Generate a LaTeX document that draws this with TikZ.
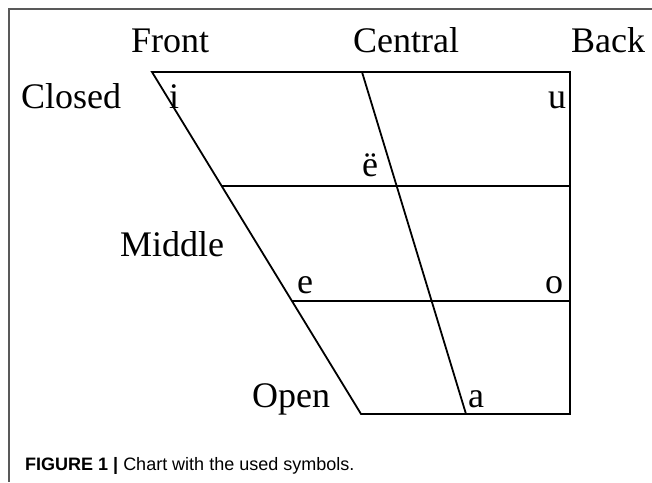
\documentclass[tikz,border=0pt]{standalone}
\usepackage{fontspec}
\setmainfont{Liberation Serif}
\newfontfamily\capfont{Liberation Sans}
\begin{document}
\begin{tikzpicture}[x=1pt,y=-1pt,
  lbl/.style={anchor=base west,inner sep=0pt,font=\fontsize{36}{36}\selectfont},
  edge/.style={line width=1.8pt,black},
  frame/.style={line width=1.6pt,black!65}]
\useasboundingbox (0,0) rectangle (652,482);
% frame
\coordinate (f1) at (652,9);
\coordinate (f0) at (9,9);
\coordinate (f2) at (9,482);
\draw[frame] (f1) -- (f0) -- (f2);
% chart corners
\coordinate (tl) at (152,72);
\coordinate (tr) at (570,72);
\coordinate (br) at (570,414);
\coordinate (bl) at (361,414);
\coordinate (ml) at (221.5,186);
\coordinate (mr) at (570,186);
\coordinate (ll) at (291.5,301);
\coordinate (lr) at (570,301);
\coordinate (ct) at (362,72);
\coordinate (cb) at (466,414);
\draw[edge,line join=miter] (bl) -- (tl) -- (tr) -- (br) -- cycle;
\draw[edge] (ml) -- (mr);
\draw[edge] (ll) -- (lr);
\draw[edge] (ct) -- (cb);
% labels
\node[lbl] (front) at (131,52) {Front};
\node[lbl] (central) at (353,52) {Central};
\node[lbl] (back) at (571,52) {Back};
\node[lbl] (closed) at (21,108) {Closed};
\node[lbl] (i) at (169,108) {i};
\node[lbl] (u) at (548,108) {u};
\node[lbl] (ee) at (362,176) {ë};
\node[lbl] (middle) at (120,256) {Middle};
\node[lbl] (e) at (297,293) {e};
\node[lbl] (o) at (545,293) {o};
\node[lbl] (open) at (252,407) {Open};
\node[lbl] (a) at (468,407) {a};
\node[anchor=base west,inner sep=0pt,font=\fontsize{18}{18}\selectfont] (cap) at (25,470)
  {\capfont\textbf{FIGURE 1 |} Chart with the used symbols.};
\end{tikzpicture}
\end{document}
